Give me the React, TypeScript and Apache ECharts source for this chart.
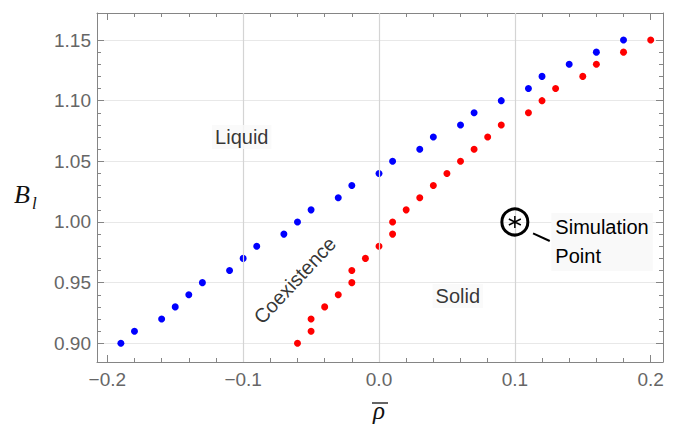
import React, { useEffect, useRef } from "react";
import * as echarts from "echarts";

// ---- data ----
const liquidRho = [-0.19, -0.18, -0.16, -0.15, -0.14, -0.13, -0.11, -0.10, -0.09, -0.07, -0.06, -0.05, -0.03, -0.02, 0.00, 0.01, 0.03, 0.04, 0.06, 0.07, 0.09, 0.11, 0.12, 0.14, 0.16, 0.18];
const solidRho = [-0.06, -0.05, -0.05, -0.04, -0.03, -0.02, -0.02, -0.01, 0.00, 0.01, 0.01, 0.02, 0.03, 0.04, 0.05, 0.06, 0.07, 0.08, 0.09, 0.11, 0.12, 0.13, 0.15, 0.16, 0.18, 0.20];
const bValues = [0.90, 0.91, 0.92, 0.93, 0.94, 0.95, 0.96, 0.97, 0.98, 0.99, 1.00, 1.01, 1.02, 1.03, 1.04, 1.05, 1.06, 1.07, 1.08, 1.09, 1.10, 1.11, 1.12, 1.13, 1.14, 1.15];

const xTickValues = [-0.2, -0.1, 0.0, 0.1, 0.2];
const xTickLabels = ["\u22120.2", "\u22120.1", "0.0", "0.1", "0.2"];
const yTickValues = [0.90, 0.95, 1.00, 1.05, 1.10, 1.15];
const yTickLabels = ["0.90", "0.95", "1.00", "1.05", "1.10", "1.15"];
const xGridValues = [-0.1, 0.0, 0.1];

const regionNames = ["Liquid", "Solid", "Coexistence"];
const regionPos: [number, number][] = [[-0.101, 1.070], [0.058, 0.939], [-0.062, 0.952]];
const regionRotate = [0, 0, 47];

const simPoint: [number, number] = [0.1, 1.0];
const simLabel = "Simulation\nPoint";
const simConnector: [number, number][] = [[0.1134, 0.9906], [0.1257, 0.9843]];

// ---- layout (pixels) ----
const W = 689, H = 426;
const FRAME_L = 97, FRAME_R = 663, FRAME_T = 13, FRAME_B = 362;
const PX_XLO = 107.3, PX_XHI = 650.7; // pixel of first / last major x tick
const PY_YHI = 40, PY_YLO = 343.3; // pixel of top / bottom major y tick

const X_LO = xTickValues[0], X_HI = xTickValues[xTickValues.length - 1];
const Y_LO = yTickValues[0], Y_HI = yTickValues[yTickValues.length - 1];
const xScale = (PX_XHI - PX_XLO) / (X_HI - X_LO);
const yScale = (PY_YLO - PY_YHI) / (Y_HI - Y_LO);
const X_MIN = X_LO - (PX_XLO - FRAME_L) / xScale;
const X_MAX = X_HI + (FRAME_R - PX_XHI) / xScale;
const Y_MIN = Y_LO - (FRAME_B - PY_YLO) / yScale;
const Y_MAX = Y_HI + (PY_YHI - FRAME_T) / yScale;

function fmt(values: number[], labels: string[]) {
  return (v: number) => {
    for (let i = 0; i < values.length; i++) if (Math.abs(values[i] - v) < 1e-6) return labels[i];
    return "";
  };
}

const axisColor = "#858585";
const labelColor = "#666666";
const tickFont = "Liberation Sans";
const tickSize = 19;

export default function App() {
  const ref = useRef<HTMLDivElement>(null);
  useEffect(() => {
    if (!ref.current) return;
    const chart = echarts.init(ref.current, null, { renderer: "svg" });

    const frameAxis = (pos: string, min: number, max: number, gridIndex: number) => ({
      type: "value", gridIndex, position: pos, min, max,
      axisLine: { show: true, onZero: false, lineStyle: { color: axisColor, width: 1 } },
      axisTick: { show: false }, axisLabel: { show: false }, splitLine: { show: false },
    });
    const hidden = (gridIndex: number) => ({ type: "value", gridIndex, show: false, min: 0, max: 1 });
    const tickAxis = (pos: string, gridIndex: number, min: number, max: number, interval: number, labels: any, split: boolean) => ({
      type: "value", gridIndex, position: pos, min, max, interval,
      axisLine: { show: false, onZero: false },
      axisTick: { show: true, inside: true, length: 7, lineStyle: { color: axisColor } },
      minorTick: { show: true, splitNumber: 5, length: 4, lineStyle: { color: axisColor } },
      axisLabel: labels,
      splitLine: split ? { show: true, lineStyle: { color: "#e8e8e8", width: 1.2 } } : { show: false },
      minorSplitLine: { show: false },
    });

    chart.setOption({
      animation: false,
      grid: [
        { left: FRAME_L, right: W - FRAME_R, top: FRAME_T, bottom: H - FRAME_B },
        { left: PX_XLO, right: W - PX_XHI, top: FRAME_T, bottom: H - FRAME_B },
        { left: FRAME_L, right: W - FRAME_R, top: PY_YHI, bottom: H - PY_YLO },
      ],
      xAxis: [
        frameAxis("bottom", X_MIN, X_MAX, 0),
        frameAxis("top", X_MIN, X_MAX, 0),
        tickAxis("bottom", 1, X_LO, X_HI, 0.1,
          { show: true, formatter: fmt(xTickValues, xTickLabels), color: labelColor, fontSize: tickSize, fontFamily: tickFont, margin: 8 }, false),
        tickAxis("top", 1, X_LO, X_HI, 0.1, { show: false }, false),
        hidden(2),
      ],
      yAxis: [
        frameAxis("left", Y_MIN, Y_MAX, 0),
        frameAxis("right", Y_MIN, Y_MAX, 0),
        tickAxis("left", 2, Y_LO, Y_HI, 0.05,
          { show: true, formatter: fmt(yTickValues, yTickLabels), color: labelColor, fontSize: tickSize, fontFamily: tickFont, margin: 6 }, true),
        tickAxis("right", 2, Y_LO, Y_HI, 0.05, { show: false }, false),
        hidden(1),
      ],
      graphic: [
        { type: "text", left: 14, top: 181, style: { text: "B", font: "italic 26px 'Liberation Serif'", fill: "#111" } },
        { type: "text", left: 32, top: 195, style: { text: "l", font: "italic 17px 'Liberation Serif'", fill: "#111" } },
        { type: "text", left: 373, top: 398, style: { text: "\u03C1", font: "italic 25px 'Liberation Serif'", fill: "#111" } },
        { type: "line", shape: { x1: 372, y1: 403, x2: 388, y2: 403 }, style: { stroke: "#111", lineWidth: 1.3 } },
      ],
      series: [
        {
          type: "scatter",
          name: "gridX",
          xAxisIndex: 0, yAxisIndex: 0,
          data: [],
          silent: true,
          markLine: {
            silent: true,
            symbol: "none",
            label: { show: false },
            lineStyle: { color: "#d4d4d4", type: "solid", width: 1.2 },
            data: xGridValues.map((v) => ({ xAxis: v })),
          },
        },
        {
          type: "scatter",
          name: "Liquid boundary",
          xAxisIndex: 0, yAxisIndex: 0,
          data: liquidRho.map((x, i) => [x, bValues[i]]),
          symbolSize: 7,
          itemStyle: { color: "#0000ff", opacity: 1 },
        },
        {
          type: "scatter",
          name: "Solid boundary",
          xAxisIndex: 0, yAxisIndex: 0,
          data: solidRho.map((x, i) => [x, bValues[i]]),
          symbolSize: 7,
          itemStyle: { color: "#ff0000", opacity: 1 },
        },
        {
          type: "scatter",
          name: "regions",
          xAxisIndex: 0, yAxisIndex: 0,
          silent: true,
          symbolSize: 1,
          itemStyle: { color: "rgba(0,0,0,0)" },
          data: regionNames.map((n, i) => ({
            name: n,
            value: regionPos[i],
            label: {
              show: true,
              position: "inside",
              formatter: n,
              rotate: regionRotate[i],
              color: "#000",
              fontSize: 20,
              fontFamily: "Liberation Sans",
              backgroundColor: regionRotate[i] ? "rgba(0,0,0,0)" : "#f9f9f9",
              padding: [2, 3],
            },
          })),
          z: 5,
        },
        {
          type: "scatter",
          name: "Simulation Point",
          xAxisIndex: 0, yAxisIndex: 0,
          silent: true,
          data: [simPoint],
          symbol: "circle",
          symbolSize: 26,
          itemStyle: { color: "rgba(0,0,0,0)", borderColor: "#000", borderWidth: 3, opacity: 1 },
          label: {
            show: true,
            position: "right",
            distance: 22,
            offset: [0, 20],
            formatter: simLabel,
            color: "#000",
            fontSize: 20,
            lineHeight: 29,
            fontFamily: "Liberation Sans",
            backgroundColor: "#f9f9f9",
            padding: [0, 4],
          },
          markLine: {
            silent: true,
            symbol: "none",
            label: { show: false },
            lineStyle: { color: "#000", type: "solid", width: 2 },
            data: [[{ coord: simConnector[0] }, { coord: simConnector[1] }]],
          },
          z: 6,
        },
        {
          type: "scatter",
          name: "Simulation Point star",
          xAxisIndex: 0, yAxisIndex: 0,
          silent: true,
          data: [simPoint],
          symbol: "path://M0,-10L0,10M-8.66,-5L8.66,5M-8.66,5L8.66,-5",
          symbolSize: 12,
          itemStyle: { color: "none", borderColor: "#000", borderWidth: 1.5, opacity: 1 },
          z: 7,
        },
      ],
    });
    return () => chart.dispose();
  }, []);
  return <div ref={ref} style={{ width: W, height: H, position: "absolute", left: 0, top: 0 }} />;
}
